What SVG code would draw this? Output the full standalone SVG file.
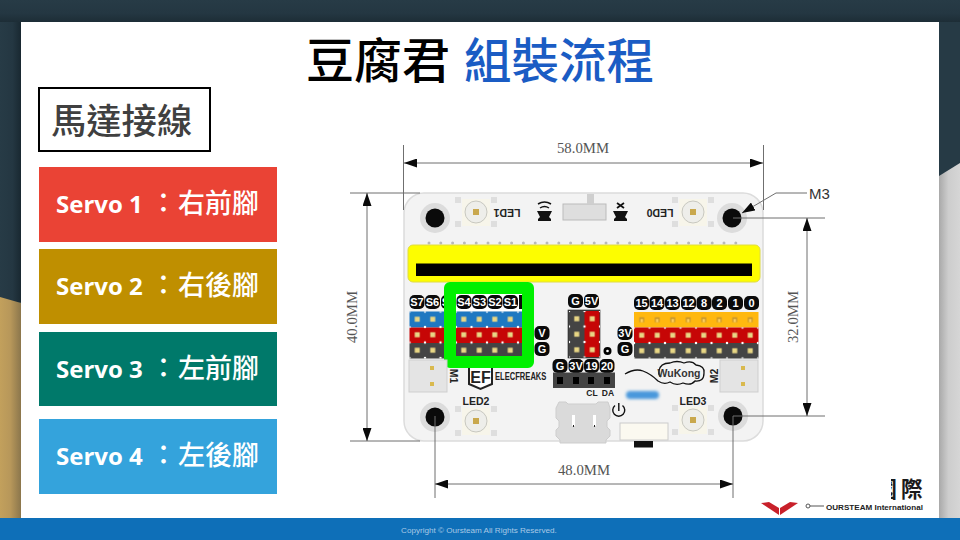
<svg xmlns="http://www.w3.org/2000/svg" width="960" height="540" viewBox="0 0 960 540">
<style>
.chip{fill:#0a0a0a}
.ct{font:bold 11px "Liberation Sans",sans-serif;fill:#fff;text-anchor:middle}
.dim{fill:none;stroke:#6f6f6f;stroke-width:1}
.ar{marker-start:url(#a);marker-end:url(#a)}
.dt{font:15px "Liberation Serif",serif;fill:#555;text-anchor:middle}
.sv{fill:#fff;font:bold 24px "Open Sans","Noto Sans",sans-serif}
.cj{fill:#fff;font:500 27px "Noto Sans CJK TC",sans-serif}
.lb{font:bold 10.5px "Liberation Sans",sans-serif;fill:#222;text-anchor:middle}
.sm{font-size:8.5px}
.gs{fill:#dedede}
</style>
<defs>
<linearGradient id="dk" x1="0" x2="1" y1="0" y2="0"><stop offset="0" stop-color="#273b46"/><stop offset=".6" stop-color="#243742"/><stop offset="1" stop-color="#192831"/></linearGradient>
<linearGradient id="dt" x1="0" x2="0" y1="0" y2="1"><stop offset="0" stop-color="#273b46"/><stop offset=".6" stop-color="#243742"/><stop offset="1" stop-color="#1d2d36"/></linearGradient>
<linearGradient id="go" x1="0" x2="1" y1="0" y2="0"><stop offset="0" stop-color="#c2a05c"/><stop offset=".5" stop-color="#b7975a"/><stop offset="1" stop-color="#8b764c"/></linearGradient>
<linearGradient id="gr" x1="0" x2="1" y1="0" y2="0"><stop offset="0" stop-color="#a9a9a9"/><stop offset=".45" stop-color="#cdcdcd"/><stop offset="1" stop-color="#d6d6d6"/></linearGradient>
<filter id="blur" x="-20%" y="-60%" width="140%" height="220%"><feGaussianBlur stdDeviation="1.6"/></filter>
<marker id="a" viewBox="0 0 13 9" refX="13" refY="4.5" markerWidth="13" markerHeight="9" markerUnits="userSpaceOnUse" orient="auto-start-reverse"><path d="M0 0L13 4.5L0 9z" fill="#0a0a0a"/></marker>
<g id="cell"><rect x="5.25" y="5.25" width="5" height="5" fill="#e8d684"/><circle cx="0" cy="0" r="1.2" fill="#fff"/><circle cx="15.5" cy="0" r="1.2" fill="#fff"/><circle cx="0" cy="15.5" r="1.2" fill="#fff"/><circle cx="15.5" cy="15.5" r="1.2" fill="#fff"/></g>
<pattern id="pL" patternUnits="userSpaceOnUse" x="409.5" y="311.5" width="15.5" height="15.5"><use href="#cell"/></pattern>
<pattern id="pM" patternUnits="userSpaceOnUse" x="569" y="311" width="15.5" height="15.5"><use href="#cell"/></pattern>
<pattern id="pR" patternUnits="userSpaceOnUse" x="634" y="312" width="15.5" height="15.5"><use href="#cell"/></pattern>
<pattern id="pO" patternUnits="userSpaceOnUse" x="634" y="312" width="15.5" height="15.5"><rect x="5.25" y="5.25" width="5" height="5" fill="#c9962a"/><rect x="6.5" y="7" width="2.5" height="3.25" fill="#ffcf5a"/></pattern>
<g id="led"><rect x="-14" y="-13" width="28" height="27" fill="#f7f5ea"/><rect x="-21" y="-15" width="6" height="6" class="gs"/><rect x="15" y="-15" width="6" height="6" class="gs"/><rect x="-21" y="9" width="6" height="6" class="gs"/><rect x="15" y="9" width="6" height="6" class="gs"/><circle r="11" fill="#eeeeea" stroke="#c8c8c0"/><rect x="-3" y="-3" width="6" height="6" fill="#c9a84d"/></g>
<g id="hole"><circle r="15" fill="#dcdcdc"/><circle r="9.5" fill="#0a0a0a"/></g>
<g id="jack"><rect x="0" y="0" width="38" height="32" fill="#e4e4e4" stroke="#cfcfcf"/><rect x="21" y="6" width="4" height="4" fill="#d9b94e"/><rect x="21" y="22" width="4" height="4" fill="#d9b94e"/></g>
<clipPath id="cut"><rect x="891" y="474" width="10" height="28"/></clipPath>
</defs>

<g id="background">
<rect width="960" height="540" fill="#263a45"/>
<rect width="960" height="22" fill="url(#dt)"/>
<rect y="22" width="21" height="280" fill="url(#dk)"/>
<polygon points="0,297 21,303 21,518 0,518" fill="url(#go)"/>
<polygon points="939,176 960,163 960,518 939,518" fill="url(#gr)"/>
<rect x="21" y="22" width="918" height="496" fill="#fff"/>
<rect y="518" width="960" height="22" fill="#0e6fb8"/>
<text x="479" y="533" font-family="'Liberation Sans',sans-serif" font-size="8.1" fill="#a9c9e6" text-anchor="middle">Copyright © Oursteam All Rights Reserved.</text>
</g>

<g id="title" font-family="'Noto Sans CJK TC',sans-serif" font-weight="500">
<text x="306" y="78" font-size="48" fill="#000">豆腐君</text>
<text x="464" y="78" font-size="47.5" fill="#1a5cc4">組裝流程</text>
</g>

<g id="heading"><rect x="39" y="88" width="171" height="63" fill="#fff" stroke="#000" stroke-width="2"/>
<text x="51" y="134" font-family="'Noto Sans CJK TC',sans-serif" font-size="35.3" font-weight="500" fill="#404040">馬達接線</text></g>

<g id="servo1"><rect x="39" y="167" width="238" height="75" fill="#ea4335"/><text class="sv" x="56" y="213">Servo 1</text><text class="cj" x="150" y="213">：</text><text class="cj" x="178" y="213">右前腳</text></g>
<g id="servo2"><rect x="39" y="249" width="238" height="75" fill="#bf8f00"/><text class="sv" x="56" y="295">Servo 2</text><text class="cj" x="150" y="295">：</text><text class="cj" x="178" y="295">右後腳</text></g>
<g id="servo3"><rect x="39" y="332" width="238" height="74" fill="#00796a"/><text class="sv" x="56" y="378">Servo 3</text><text class="cj" x="150" y="378">：</text><text class="cj" x="178" y="378">左前腳</text></g>
<g id="servo4"><rect x="39" y="419" width="238" height="75" fill="#34a3dc"/><text class="sv" x="56" y="465">Servo 4</text><text class="cj" x="150" y="465">：</text><text class="cj" x="178" y="465">左後腳</text></g>

<g id="board">
<rect x="404" y="193" width="359" height="248" rx="20" fill="#f3f3f3" stroke="#dcdcdc" stroke-width="1.5"/>
<use href="#hole" x="435" y="218"/><use href="#hole" x="732" y="218"/><use href="#hole" x="435" y="417"/><use href="#hole" x="733" y="416"/>
<use href="#led" x="476" y="212"/><use href="#led" x="693" y="212"/><use href="#led" x="476" y="421"/><use href="#led" x="693" y="420"/>
<text class="lb" transform="translate(507,209) rotate(180)">LED1</text>
<text class="lb" transform="translate(660,209) rotate(180)">LED0</text>
<text class="lb" x="476" y="405">LED2</text><text class="lb" x="693" y="405">LED3</text>

<path d="M429 243H737" stroke="#b9b9b9" stroke-width="3" stroke-linecap="round" stroke-dasharray="0 11.8" fill="none"/>
<rect x="408" y="245" width="352" height="37" rx="5" fill="#fdfd00" stroke="#e0dc40"/>
<rect x="416" y="263.5" width="336" height="12.5" fill="#000"/>

<rect x="563" y="204" width="43" height="16" fill="#dedede" stroke="#bbb"/><rect x="587" y="194" width="7" height="10" fill="#cfcfcf"/>
<path d="M537 211h15l-3 6 2 2v2h-13v-2l2-2z" fill="#111"/><path d="M540 208q4.500-3 9 0M538 204q6.500-4 13 0" stroke="#111" fill="none" stroke-width="1.5"/>
<path d="M613 211h15l-3 6 2 2v2h-13v-2l2-2z" fill="#111"/><path d="M617 203l7 5M624 203l-7 5" stroke="#111" fill="none" stroke-width="1.8"/>

<!-- left servo header -->
<rect x="409.5" y="311.5" width="113" height="16" fill="#1f78c1"/><rect x="409.5" y="327.5" width="113" height="15.5" fill="#c60606"/><rect x="409.5" y="343" width="113" height="15.5" fill="#444"/>
<rect x="409.5" y="311.5" width="113" height="47" fill="url(#pL)"/>
<g><rect class="chip" x="409.5" y="295" width="15" height="14" rx="5"/><text class="ct" x="417" y="306">S7</text>
<rect class="chip" x="425" y="295" width="15" height="14" rx="5"/><text class="ct" x="432.5" y="306">S6</text>
<rect class="chip" x="441" y="295" width="15" height="14" rx="5"/><text class="ct" x="448.5" y="306">S5</text>
<rect x="456" y="294" width="66" height="17" fill="#fff"/>
<rect class="chip" x="456.5" y="295" width="15" height="14" rx="5"/><text class="ct" x="464" y="306">S4</text>
<rect class="chip" x="472" y="295" width="15" height="14" rx="5"/><text class="ct" x="479.5" y="306">S3</text>
<rect class="chip" x="487.5" y="295" width="15" height="14" rx="5"/><text class="ct" x="495" y="306">S2</text>
<rect class="chip" x="503" y="295" width="15" height="14" rx="5"/><text class="ct" x="510.5" y="306">S1</text>
<rect class="chip" x="519" y="295" width="3" height="14"/></g>

<g id="highlight"><path fill-rule="evenodd" fill="#00f000" d="M450 282H528a6 6 0 0 1 6 6V362a6 6 0 0 1-6 6H450a6 6 0 0 1-6-6V288a6 6 0 0 1 6-6zM456 294V356H522V294z"/></g>

<rect class="chip" x="534.5" y="326" width="15" height="14" rx="5"/><text class="ct" x="542" y="337">V</text>
<rect class="chip" x="534.5" y="342" width="15" height="14" rx="5"/><text class="ct" x="542" y="353">G</text>

<!-- middle header -->
<rect class="chip" x="568" y="294" width="15" height="14" rx="5"/><text class="ct" x="575.5" y="305">G</text>
<rect class="chip" x="584" y="294" width="15" height="14" rx="5"/><text class="ct" x="591.5" y="305">5V</text>
<rect x="568" y="310" width="32" height="48" fill="#444" stroke="#222" stroke-width=".6"/><rect x="584.5" y="311" width="15" height="46" fill="#c60606"/>
<rect x="569" y="311" width="31" height="46.5" fill="url(#pM)"/>
<circle cx="607.5" cy="351" r="4" fill="#000"/><circle cx="607.5" cy="351" r="1.3" fill="#fff"/>
<rect class="chip" x="617.5" y="326" width="15" height="14" rx="5"/><text class="ct" x="625" y="337">3V</text>
<rect class="chip" x="617.5" y="342" width="15" height="14" rx="5"/><text class="ct" x="625" y="353">G</text>

<!-- right header -->
<rect x="634" y="312" width="124.5" height="15.5" fill="#ffb80f"/><rect x="634" y="327.5" width="124.5" height="15.5" fill="#c60606"/><rect x="634" y="343" width="124.5" height="15.5" fill="#444"/>
<rect x="634" y="312" width="124.5" height="15.5" fill="url(#pO)"/>
<rect x="634" y="327.5" width="124.5" height="31" fill="url(#pR)"/>
<g><rect class="chip" x="634" y="296" width="15" height="14" rx="5"/><text class="ct" x="641.5" y="307">15</text>
<rect class="chip" x="649.5" y="296" width="15" height="14" rx="5"/><text class="ct" x="657" y="307">14</text>
<rect class="chip" x="665" y="296" width="15" height="14" rx="5"/><text class="ct" x="672.5" y="307">13</text>
<rect class="chip" x="681" y="296" width="15" height="14" rx="5"/><text class="ct" x="688.5" y="307">12</text>
<rect class="chip" x="696.5" y="296" width="15" height="14" rx="5"/><text class="ct" x="704" y="307">8</text>
<rect class="chip" x="712" y="296" width="15" height="14" rx="5"/><text class="ct" x="719.5" y="307">2</text>
<rect class="chip" x="728" y="296" width="15" height="14" rx="5"/><text class="ct" x="735.5" y="307">1</text>
<rect class="chip" x="744" y="296" width="15" height="14" rx="5"/><text class="ct" x="751.5" y="307">0</text></g>

<!-- i2c header -->
<rect class="chip" x="552.5" y="359" width="15" height="14" rx="5"/><text class="ct" x="560" y="370">G</text>
<rect class="chip" x="568.5" y="359" width="15" height="14" rx="5"/><text class="ct" x="576" y="370">3V</text>
<rect class="chip" x="584" y="359" width="15" height="14" rx="5"/><text class="ct" x="591.5" y="370">19</text>
<rect class="chip" x="599.5" y="359" width="15" height="14" rx="5"/><text class="ct" x="607" y="370">20</text>
<rect x="553" y="372.5" width="62" height="15.5" fill="#444"/>
<rect x="557" y="377" width="6" height="7" fill="#000"/><rect x="573" y="377" width="6" height="7" fill="#000"/><rect x="588" y="377" width="6" height="7" fill="#000"/><rect x="604" y="377" width="6" height="7" fill="#000"/>
<text class="lb sm" x="592" y="396">CL</text><text class="lb sm" x="608" y="396">DA</text>

<!-- jacks -->
<use href="#jack" x="409" y="360"/><text class="lb" transform="translate(450,376) rotate(90)">M1</text>
<use href="#jack" x="720" y="360"/><text class="lb" transform="translate(718,376) rotate(-90)">M2</text>

<!-- elecfreaks logo -->
<path d="M469 368V384L480.5 389L492 384V368" fill="#fff" stroke="#222" stroke-width="2"/>
<text x="480.5" y="383" font-family="'Liberation Sans',sans-serif" font-weight="bold" font-size="16" fill="#222" text-anchor="middle">EF</text>
<text transform="translate(495,380) scale(.66,1)" font-family="'Liberation Sans',sans-serif" font-weight="bold" font-size="11.5" fill="#222">ELECFREAKS</text>

<!-- usb + power -->
<path d="M559 402h7l2 2h28l2-2h10l2 6v10l-3 3v6l3 3v6l-4 4v3h-46v-3l-4-4v-6l3-3v-6l-3-3v-10z" fill="#dadada" stroke="#cdcdcd"/>
<rect x="572" y="415" width="3" height="11" fill="#fff"/><rect x="593" y="415" width="3" height="11" fill="#fff"/><path d="M573 426h1M594 426h1" stroke="#222" stroke-width="2"/>
<path d="M615 405.500a6 6 0 1 0 7.500 0M618.800 403v8" fill="none" stroke="#111" stroke-width="1.4"/>
<rect x="620" y="423" width="48" height="17" fill="#fbf9f0" stroke="#ccc"/>
<rect x="634" y="441" width="19" height="6.5" fill="#111"/>

<!-- wukong -->
<path d="M625 374Q635 368 643 371T658 381Q664 385 670 382Q676 386 683 383Q691 386 695 381Q704 382 704 373Q705 366 696 365Q692 360 684 363Q677 360 670 363Q660 363 659 371Q658 375 661 377" fill="none" stroke="#111" stroke-width="1.3"/>
<text x="679" y="376.5" font-family="'Liberation Sans',sans-serif" font-weight="bold" font-size="10.5" fill="#333" text-anchor="middle">WuKong</text>
<rect x="626" y="391" width="33" height="8" rx="4" fill="#4a98dc" filter="url(#blur)"/>
</g>

<g id="connectors">
<path class="dim" d="M403.5 145V210M763.5 145V210M350 193H420M350 441H420M733 218H825M733 416H825M435 416V498M733 416V498"/>
<path class="dim ar" d="M404 163H763"/>
<path class="dim ar" d="M367 193V441"/>
<path class="dim ar" d="M807 218V416"/>
<path class="dim ar" d="M435 484H733"/>
<path class="dim" d="M807 193H776L742 213" style="marker-end:url(#a)"/>
</g>
<g id="dimension-labels">
<text class="dt" x="583" y="153" textLength="52" lengthAdjust="spacingAndGlyphs">58.0MM</text>
<text class="dt" x="584" y="475" textLength="52" lengthAdjust="spacingAndGlyphs">48.0MM</text>
<text class="dt" transform="translate(357,317) rotate(-90)" textLength="52" lengthAdjust="spacingAndGlyphs">40.0MM</text>
<text class="dt" transform="translate(798,317) rotate(-90)" textLength="52" lengthAdjust="spacingAndGlyphs">32.0MM</text>
<text x="809" y="199" font-family="'Liberation Sans',sans-serif" font-size="15" fill="#333">M3</text>
</g>

<g id="logo">
<polygon points="761,503 769,502 779,508 779,515" fill="#c8202a"/><polygon points="798,503 790,502 780,508 780,515" fill="#c8202a"/>
<circle cx="808" cy="506" r="2" fill="none" stroke="#555"/><path d="M810 506H824" stroke="#555"/>
<text x="875.5" y="496.5" clip-path="url(#cut)" font-family="'Noto Sans CJK TC',sans-serif" font-weight="700" font-size="21.5" fill="#1a1a1a">國</text>
<text x="901" y="496.5" font-family="'Noto Sans CJK TC',sans-serif" font-weight="700" font-size="21.5" fill="#1a1a1a">際</text>
<text x="826" y="510" font-family="'Liberation Sans',sans-serif" font-weight="bold" font-size="8" fill="#222" textLength="97" lengthAdjust="spacingAndGlyphs">OURSTEAM International</text>
</g>
</svg>
